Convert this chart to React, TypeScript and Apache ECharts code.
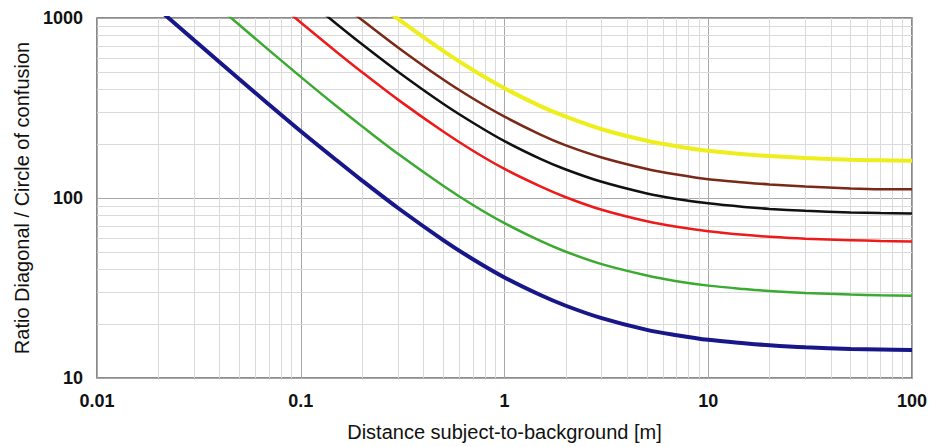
import React, { useEffect, useRef } from "react";
import * as echarts from "echarts";

const xValues = [0.02, 0.03, 0.05, 0.07, 0.1, 0.15, 0.2, 0.3, 0.5, 0.7, 1, 1.5, 2, 3, 5, 7, 10, 15, 20, 30, 50, 70, 100];

const blueValues = [1121, 752, 457, 330, 235, 162, 125, 88, 58.4, 45.7, 36.2, 28.9, 25.2, 21.5, 18.5, 17.3, 16.3, 15.6, 15.2, 14.8, 14.5, 14.4, 14.3];
const greenValues = [null, 1504, 914, 661, 471, 323, 250, 176, 117, 91.5, 72.5, 57.7, 50.3, 42.9, 37.1, 34.5, 32.6, 31.2, 30.4, 29.7, 29.1, 28.8, 28.6];
const redValues = [null, null, 1831, 1324, 944, 648, 500, 352, 234, 183, 145, 116, 101, 86, 74.2, 69.2, 65.4, 62.4, 60.9, 59.4, 58.3, 57.7, 57.4];
const blackValues = [null, null, null, null, 1348, 926, 714, 503, 334, 262, 207, 165, 144, 123, 106, 98.8, 93.4, 89.2, 87.0, 84.9, 83.2, 82.5, 82.0];
const brownValues = [null, null, null, null, null, 1262, 974, 686, 455, 357, 283, 225, 196, 168, 145, 135, 127, 122, 119, 116, 113, 112, 112];
const yellowValues = [null, null, null, null, null, null, 1403, 988, 656, 514, 407, 324, 283, 241, 208, 194, 183, 175, 171, 167, 163, 162, 161];

const xTickValues = [0.01, 0.1, 1, 10, 100];
const xTickLabels = ["0.01", "0.1", "1", "10", "100"];
const yTickValues = [10, 100, 1000];
const yTickLabels = ["10", "100", "1000"];

const xMinorGrid = [0.02, 0.03, 0.04, 0.05, 0.06, 0.07, 0.08, 0.09, 0.2, 0.3, 0.4, 0.5, 0.6, 0.7, 0.8, 0.9, 2, 3, 4, 5, 6, 7, 8, 9, 20, 30, 40, 50, 60, 70, 80, 90];
const yMinorGrid = [20, 30, 40, 50, 60, 70, 80, 90, 200, 300, 400, 500, 600, 700, 800, 900];

const xName = "Distance subject-to-background [m]";
const yName = "Ratio Diagonal / Circle of confusion";

const seriesDefs = [
  { name: "blue", values: blueValues, color: "#17178a", width: 4 },
  { name: "green", values: greenValues, color: "#3aaa30", width: 2.5 },
  { name: "red", values: redValues, color: "#ee1a1a", width: 2.5 },
  { name: "black", values: blackValues, color: "#111111", width: 2.5 },
  { name: "brown", values: brownValues, color: "#7a2818", width: 2.5 },
  { name: "yellow", values: yellowValues, color: "#eeee1c", width: 4 },
];

function labelFor(values: number[], labels: string[], v: number) {
  for (let i = 0; i < values.length; i++) {
    if (Math.abs(Math.log10(values[i]) - Math.log10(v)) < 1e-6) return labels[i];
  }
  return "";
}

export default function App() {
  const ref = useRef<HTMLDivElement>(null);
  useEffect(() => {
    if (!ref.current) return;
    const chart = echarts.init(ref.current, undefined, { renderer: "svg" });
    const font = "'Liberation Sans', Arial, sans-serif";
    const lineSeries = seriesDefs.map((s) => ({
      name: s.name,
      type: "line",
      smooth: 0.3,
      showSymbol: false,
      clip: true,
      z: 5,
      lineStyle: { color: s.color, width: s.width },
      itemStyle: { color: s.color },
      data: xValues
        .map((x, i) => (s.values[i] == null ? null : [x, s.values[i]]))
        .filter((d) => d !== null),
    }));
    chart.setOption({
      animation: false,
      backgroundColor: "#ffffff",
      grid: {
        left: 97,
        right: 29,
        top: 18,
        bottom: 65,
        show: true,
        borderColor: "#666666",
        borderWidth: 1.5,
      },
      xAxis: {
        type: "log",
        logBase: 10,
        min: 0.01,
        max: 100,
        name: xName,
        nameLocation: "middle",
        nameGap: 44,
        nameTextStyle: { fontFamily: font, fontSize: 20, color: "#111" },
        axisLine: { show: false },
        axisTick: { show: false },
        axisLabel: {
          margin: 14,
          fontFamily: font,
          fontSize: 18,
          fontWeight: "bold",
          color: "#111",
          formatter: (v: number) => labelFor(xTickValues, xTickLabels, v),
        },
        splitLine: { show: true, lineStyle: { color: "#a8a8a8", width: 1 } },
      },
      yAxis: {
        type: "log",
        logBase: 10,
        min: 10,
        max: 1000,
        name: yName,
        nameLocation: "middle",
        nameGap: 62,
        nameTextStyle: { fontFamily: font, fontSize: 20, color: "#111" },
        axisLine: { show: false },
        axisTick: { show: false },
        axisLabel: {
          margin: 14,
          fontFamily: font,
          fontSize: 18,
          fontWeight: "bold",
          color: "#111",
          formatter: (v: number) => labelFor(yTickValues, yTickLabels, v),
        },
        splitLine: { show: true, lineStyle: { color: "#a8a8a8", width: 1 } },
      },
      series: [
        {
          name: "minorGrid",
          type: "line",
          data: [],
          z: 1,
          silent: true,
          markLine: {
            silent: true,
            symbol: "none",
            label: { show: false },
            lineStyle: { color: "#dadada", width: 1, type: "solid" },
            data: [
              ...xMinorGrid.map((v) => ({ xAxis: v })),
              ...yMinorGrid.map((v) => ({ yAxis: v })),
            ],
          },
        },
        ...lineSeries,
      ],
    });
    return () => chart.dispose();
  }, []);
  return (
    <div
      ref={ref}
      style={{ position: "absolute", left: 0, top: 0, width: 941, height: 447 }}
    />
  );
}
